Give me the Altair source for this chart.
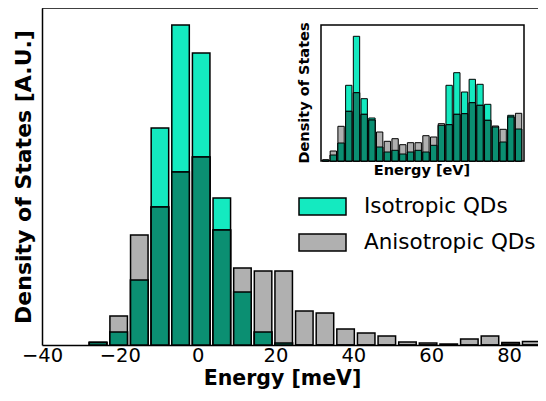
import altair as alt
import pandas as pd

# ---------------- data ----------------
energy_meV = [-25.6, -20.3, -15.0, -9.7, -4.4, 0.9, 6.2, 11.5, 16.8, 22.1, 27.4,
              32.7, 38.0, 43.3, 48.6, 53.9, 59.2, 64.5, 69.8, 75.1, 80.4, 85.7]
iso_main = [2.5, 13, 65, 217, 320, 292, 147, 53, 13, 2, 0,
            0, 0, 0, 0, 0, 0, 0, 0, 0, 1, 0]
aniso_main = [2.7, 29, 110, 138, 173, 188, 115, 77, 74, 74, 34,
              32, 16, 12, 9, 3, 2, 1, 6, 9, 2.5, 3.5]

inset_energy = [0.6, 1.6, 2.6, 3.6, 4.6, 5.6, 6.6, 7.6, 8.6, 9.6, 10.6, 11.6, 12.6,
                13.6, 14.6, 15.6, 16.6, 17.6, 18.6, 19.6, 20.6, 21.6, 22.6, 23.6, 24.6, 25.6]
iso_inset = [1, 6, 18, 75.7, 124.7, 62.3, 43, 14, 9, 10.7, 7, 9, 10.7,
             9, 15.7, 35.7, 75.7, 88.3, 69, 81.7, 76.7, 56.7, 34, 19, 45.7, 32]
aniso_inset = [1, 10, 34.7, 49.7, 68.3, 46.7, 41, 29, 19.7, 22.3, 16.3, 18.3, 18.3,
               25.3, 24, 37.3, 36.3, 46.7, 47.3, 58.3, 55.7, 40.7, 35, 31.7, 44, 47.7]

series_names = ["Isotropic QDs", "Anisotropic QDs"]
x_ticks = [-40, -20, 0, 20, 40, 60, 80]

TEAL = "#14eac0"
GRAY = "#b0b0b0"
OVERLAP = "#0b8f72"

W, H = 496, 337
BAR_W = 4.5
INSET_BW = 0.82
X_MAX = -40 + W / 3.892

# ---------------- tables ----------------
rows, ov_rows = [], []
for e, i, a in zip(energy_meV, iso_main, aniso_main):
    rows.append(dict(x0=e - BAR_W / 2, x1=e + BAR_W / 2, value=i, base=0, series=series_names[0]))
    rows.append(dict(x0=e - BAR_W / 2, x1=e + BAR_W / 2, value=a, base=0, series=series_names[1]))
    ov_rows.append(dict(x0=e - BAR_W / 2, x1=e + BAR_W / 2, value=min(i, a), base=0))
main_df = pd.DataFrame(rows)
ov_df = pd.DataFrame(ov_rows)

irows, iov_rows = [], []
for e, i, a in zip(inset_energy, iso_inset, aniso_inset):
    irows.append(dict(x0=e - INSET_BW / 2, x1=e + INSET_BW / 2, value=i, base=0, c=TEAL))
    irows.append(dict(x0=e - INSET_BW / 2, x1=e + INSET_BW / 2, value=a, base=0, c=GRAY))
    iov_rows.append(dict(x0=e - INSET_BW / 2, x1=e + INSET_BW / 2, value=min(i, a), base=0))
inset_df = pd.DataFrame(irows)
inset_ov_df = pd.DataFrame(iov_rows)
frame_df = pd.DataFrame([dict(x0=0, x1=26.3, y0=0, y1=136)])

# ---------------- main histogram ----------------
xs = alt.Scale(domain=[-40, X_MAX], nice=False, zero=False)
ys = alt.Scale(domain=[0, 337], nice=False, zero=False)

x_axis = alt.Axis(values=x_ticks, title="Energy [meV]", grid=False,
                  labelFontSize=19.5, ticks=False, labelPadding=1, labelFlush=False,
                  labelOverlap=False, domain=True, domainColor="black", domainWidth=1.5,
                  titleFontSize=20.5, titleFontWeight="bold",
                  titleX=240, titleY=39, titleBaseline="alphabetic", titleAlign="center")
y_axis = alt.Axis(title="Density of States [A.U.]", labels=False, ticks=False, grid=False,
                  domain=True, domainColor="black", domainWidth=1.5,
                  titleFontSize=22, titleFontWeight="bold", titleAngle=270,
                  titleX=-18.5, titleY=168.5, titleAlign="center", titleBaseline="middle")

legend = alt.Legend(title=None, orient="none", legendX=256, legendY=174,
                    symbolType="M-1,-0.36L1,-0.36L1,0.36L-1,0.36Z", symbolSize=2209,
                    symbolStrokeColor="black", symbolStrokeWidth=1.5, symbolOpacity=1,
                    labelFontSize=21.5, labelFont="DejaVu Sans", labelColor="black",
                    labelOffset=17, rowPadding=-15, padding=0, labelLimit=400)

bars = alt.Chart(main_df).mark_rect(stroke="black", strokeWidth=1.5, opacity=1).encode(
    x=alt.X("x0:Q", scale=xs, axis=x_axis),
    x2="x1:Q",
    y=alt.Y("value:Q", scale=ys, axis=y_axis),
    y2="base:Q",
    color=alt.Color("series:N", scale=alt.Scale(domain=series_names, range=[TEAL, GRAY]),
                    legend=legend),
)
overlap = alt.Chart(ov_df).mark_rect(stroke="black", strokeWidth=1.5, fill=OVERLAP, opacity=1).encode(
    x="x0:Q", x2="x1:Q", y="value:Q", y2="base:Q"
)
top_spine = alt.Chart(pd.DataFrame({"k": [0]})).mark_rule(color="black", strokeWidth=1.5).encode(
    x=alt.datum(-40), x2=alt.datum(92), y=alt.value(0)
)
main = alt.layer(bars, overlap, top_spine)

# ---------------- inset ----------------
xi = alt.Scale(domain=[0, 26.3], range=[279, 482], nice=False, zero=False)
yi = alt.Scale(domain=[0, 136], range=[153, 17], nice=False, zero=False)

frame = alt.Chart(frame_df).mark_rect(fill="white", stroke="black", strokeWidth=1.5).encode(
    x=alt.X("x0:Q", scale=xi, axis=None), x2="x1:Q",
    y=alt.Y("y0:Q", scale=yi, axis=None), y2="y1:Q",
)
ibars = alt.Chart(inset_df).mark_rect(stroke="black", strokeWidth=1, opacity=1).encode(
    x=alt.X("x0:Q", scale=xi, axis=None), x2="x1:Q",
    y=alt.Y("value:Q", scale=yi, axis=None), y2="base:Q",
    color=alt.Color("c:N", scale=None),
)
iov = alt.Chart(inset_ov_df).mark_rect(stroke="black", strokeWidth=1, fill=OVERLAP, opacity=1).encode(
    x=alt.X("x0:Q", scale=xi, axis=None), x2="x1:Q",
    y=alt.Y("value:Q", scale=yi, axis=None), y2="base:Q",
)
ilabel_y = alt.Chart(pd.DataFrame([{"t": "Density of States"}])).mark_text(
    font="DejaVu Sans", fontSize=14.5, fontWeight="bold", angle=270,
    align="center", baseline="middle", color="black"
).encode(x=alt.value(263), y=alt.value(85), text="t:N")
ilabel_x = alt.Chart(pd.DataFrame([{"t": "Energy [eV]"}])).mark_text(
    font="DejaVu Sans", fontSize=14.5, fontWeight="bold",
    align="center", baseline="alphabetic", color="black"
).encode(x=alt.value(380), y=alt.value(167), text="t:N")

inset = alt.layer(frame, ibars, iov, ilabel_y, ilabel_x)

chart = alt.layer(main, inset).resolve_scale(
    x="independent", y="independent", color="independent"
).properties(
    width=W, height=H,
    padding={"left": 34, "top": 0, "right": 0, "bottom": 44},
    autosize=alt.AutoSizeParams(type="none"),
).configure(
    font="DejaVu Sans"
).configure_view(
    stroke=None
).configure_axis(
    grid=False, labelFont="DejaVu Sans", titleFont="DejaVu Sans",
    labelColor="black", titleColor="black"
)

chart.save("out.html", embed_options={"renderer": "svg", "actions": False})
